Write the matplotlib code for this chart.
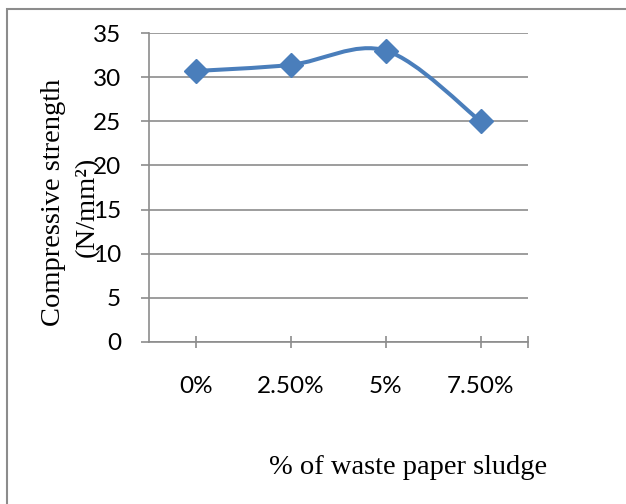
"""Compressive strength vs. waste paper sludge content (Excel-style smoothed line)."""
import matplotlib.pyplot as plt
import numpy as np
from matplotlib.patches import PathPatch, Rectangle
from matplotlib.path import Path

categories = ["0%", "2.50%", "5%", "7.50%"]
strength = [30.7, 31.4, 33.0, 25.0]
y_ticks = [0, 5, 10, 15, 20, 25, 30, 35]

LINE_COLOR = "#4A7EBB"
GRID_COLOR = "#8C8C8C"
TICK_FONT = ["Lato", "DejaVu Sans"]
LABEL_FONT = ["Liberation Serif", "DejaVu Serif"]


def smooth_path(x, y):
    """Bezier path through the points, using Excel-like smoothing (tension 1/6)."""
    pts = np.column_stack([x, y]).astype(float)
    padded = np.vstack([pts[0], pts, pts[-1]])
    verts = [pts[0]]
    codes = [Path.MOVETO]
    for i in range(len(pts) - 1):
        p0, p1, p2, p3 = padded[i], padded[i + 1], padded[i + 2], padded[i + 3]
        c1 = p1 + (p2 - p0) / 6.0
        c2 = p2 - (p3 - p1) / 6.0
        verts += [c1, c2, p2]
        codes += [Path.CURVE4] * 3
    return Path(verts, codes)


fig = plt.figure(figsize=(6.26, 5.04), dpi=100)
ax = fig.add_axes([149 / 626, 1 - 342 / 504, 379 / 626, 309 / 504])

x = np.arange(len(categories))
ax.add_patch(PathPatch(smooth_path(x, strength), facecolor="none",
                       edgecolor=LINE_COLOR, lw=2.9, zorder=3, capstyle="round"))
ax.plot(x, strength, linestyle="none", marker="D", markersize=12.5,
        color=LINE_COLOR, markeredgecolor=LINE_COLOR, zorder=4)

ax.set_xlim(-0.5, 3.5)
ax.set_ylim(0, 35)
ax.set_yticks(y_ticks)
ax.set_yticklabels([str(v) for v in y_ticks], fontfamily=TICK_FONT, fontsize=17.5)
ax.set_xticks(list(x) + [3.5])
ax.set_xticklabels(categories + [""], fontfamily=TICK_FONT, fontsize=17.5)

ax.grid(axis="y", color=GRID_COLOR, lw=1.2)
ax.set_axisbelow(True)
for side in ("top", "right"):
    ax.spines[side].set_visible(False)
for side in ("left", "bottom"):
    ax.spines[side].set_color(GRID_COLOR)
    ax.spines[side].set_linewidth(1.2)
ax.tick_params(axis="y", length=6, width=1.2, color=GRID_COLOR, pad=14)
ax.tick_params(axis="x", direction="inout", length=9, width=1.2,
               color=GRID_COLOR, pad=20)

# axis titles
fig.text(54 / 626, 1 - 202 / 504, "Compressive strength", rotation=90,
         ha="center", va="center", fontfamily=LABEL_FONT, fontsize=20.5)
fig.text(87 / 626, 1 - 207 / 504, "(N/mm²)", rotation=90,
         ha="center", va="center", fontfamily=LABEL_FONT, fontsize=20.5)
fig.text(408 / 626, 1 - 467 / 504, "% of waste paper sludge",
         ha="center", va="center", fontfamily=LABEL_FONT, fontsize=20.5)

# chart frame
fig.patches.append(Rectangle((7 / 626, -0.1), 2.0, 1 - 9 / 504 + 0.1,
                             transform=fig.transFigure, fill=False,
                             edgecolor="#8C8C8C", lw=1.5))

fig.savefig("out.png", dpi=100)
